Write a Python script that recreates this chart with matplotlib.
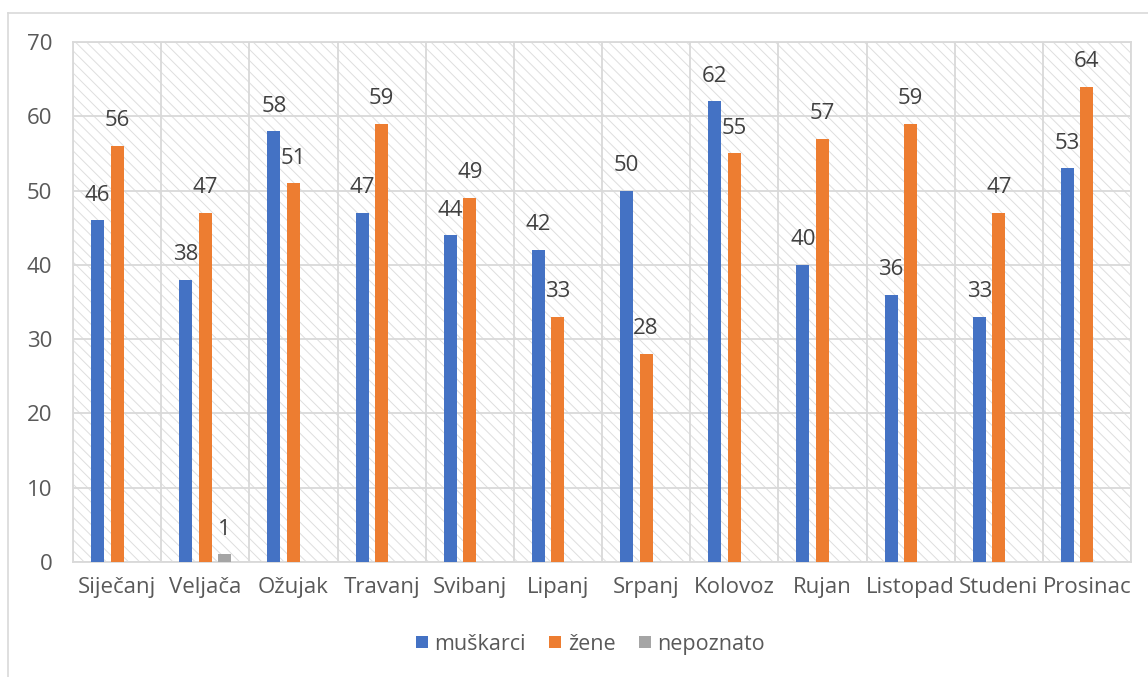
import numpy as np
import matplotlib
matplotlib.use('Agg')
import matplotlib.pyplot as plt
from matplotlib.patches import Rectangle
from matplotlib.lines import Line2D

plt.rcParams['font.family'] = ['Open Sans', 'DejaVu Sans']
plt.rcParams['hatch.linewidth'] = 0.7

# podaci
mjeseci = ['Siječanj', 'Veljača', 'Ožujak', 'Travanj', 'Svibanj', 'Lipanj',
           'Srpanj', 'Kolovoz', 'Rujan', 'Listopad', 'Studeni', 'Prosinac']
muskarci = [46, 38, 58, 47, 44, 42, 50, 62, 40, 36, 33, 53]
zene = [56, 47, 51, 59, 49, 33, 28, 55, 57, 59, 47, 64]
nepoznato = [0, 1, 0, 0, 0, 0, 0, 0, 0, 0, 0, 0]

serije = [('muškarci', muskarci, '#4472C4'),
          ('žene', zene, '#ED7D31'),
          ('nepoznato', nepoznato, '#A5A5A5')]

txt = '#595959'
grid_c = '#D9D9D9'

fig = plt.figure(figsize=(11.48, 6.77), dpi=100)
ax = fig.add_axes([0.0636, 0.170, 0.9216, 0.768])

# šrafirana pozadina
ax.add_patch(Rectangle((0, 0), 1, 1, transform=ax.transAxes, facecolor='white',
                       edgecolor='#DEDEDE', hatch='\\\\\\', linewidth=0, zorder=0))

x = np.arange(len(mjeseci))
sirina = 0.147
razmak = 0.221
for i, (ime, vrijednosti, boja) in enumerate(serije):
    pos = x + (i - 1) * razmak
    ax.bar(pos, vrijednosti, width=sirina, color=boja, label=ime, zorder=3)
    for px, v in zip(pos, vrijednosti):
        if v > 0:
            ax.annotate(str(v), (px, v), xytext=(0, 18), textcoords='offset points',
                        ha='center', va='center', fontsize=16, color='#404040')

ax.set_xlim(-0.5, 11.5)
ax.set_ylim(0, 70)
ax.set_yticks(range(0, 71, 10))
ax.set_xticks(x)
ax.set_xticklabels(mjeseci)
ax.set_xticks(np.arange(-0.5, 12, 1), minor=True)
ax.grid(axis='y', which='major', color=grid_c, linewidth=1.3, zorder=1)
ax.grid(axis='x', which='minor', color=grid_c, linewidth=1.3, zorder=1)
ax.set_axisbelow(True)
ax.tick_params(axis='both', which='both', length=0, labelsize=16, labelcolor=txt)
ax.tick_params(axis='y', pad=15)
ax.tick_params(axis='x', pad=11)
for s in ax.spines.values():
    s.set_color(grid_c)
    s.set_linewidth(1.3)

ax.legend(loc='center', bbox_to_anchor=(0.489, -0.158), ncol=3, frameon=False,
          fontsize=15.5, labelcolor=txt, handlelength=0.55, handleheight=0.45,
          handletextpad=0.3, columnspacing=1.1)

# okvir grafikona
fig.add_artist(Line2D([8 / 1148, 1], [1 - 13 / 677, 1 - 13 / 677], color=grid_c, linewidth=1.2))
fig.add_artist(Line2D([8 / 1148, 8 / 1148], [0, 1 - 13 / 677], color=grid_c, linewidth=1.2))

fig.savefig('out.png', dpi=100)
